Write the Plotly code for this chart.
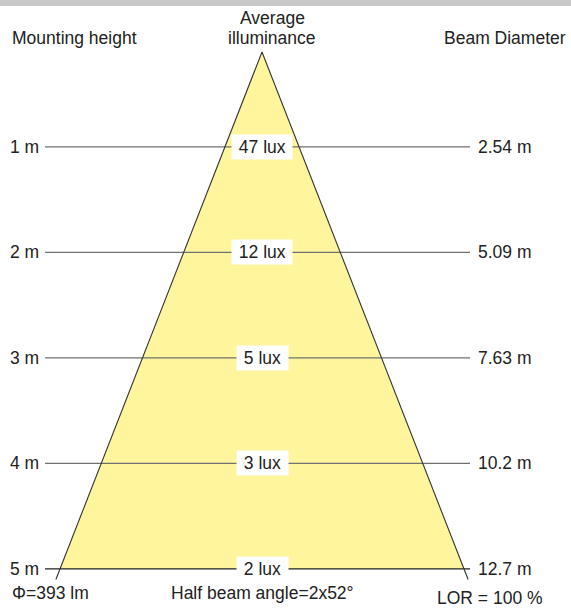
import plotly.graph_objects as go

# ---- data ----
heights = [1, 2, 3, 4, 5]                       # mounting height (m)
height_labels = ["1 m", "2 m", "3 m", "4 m", "5 m"]
lux = [47, 12, 5, 3, 2]                          # average illuminance
diameters = ["2.54 m", "5.09 m", "7.63 m", "10.2 m", "12.7 m"]
flux_text = "Φ=393 lm"
angle_text = "Half beam angle=2x52°"
lor_text = "LOR = 100 %"

# schematic geometry (drawing units)
apex_h = 0.1
base_h = 5.0
base_half = 202
edge_end_h = 5.1
line_left, line_right = -217, 208

FONT = "Liberation Sans, Arial, sans-serif"
TXT = "#222222"
FS = 17.5

fig = go.Figure()

# cone fill
fig.add_trace(go.Scatter(
    x=[0, -base_half, base_half, 0], y=[apex_h, base_h, base_h, apex_h],
    mode="lines", fill="toself", fillcolor="#fff59c",
    line=dict(width=0), hoverinfo="skip"))

# horizontal lines
for h in heights:
    fig.add_trace(go.Scatter(
        x=[line_left, line_right], y=[h, h], mode="lines",
        line=dict(color="#222222" if h == base_h else "#707070", width=1.2),
        hoverinfo="skip"))

# cone edges
ext = base_half * (edge_end_h - apex_h) / (base_h - apex_h)
for s in (-1, 1):
    fig.add_trace(go.Scatter(
        x=[0, s * ext], y=[apex_h, edge_end_h], mode="lines",
        line=dict(color="#333333", width=1.1), hoverinfo="skip"))

NB = "\u00a0"
ann = []
for h, hl, lx, d in zip(heights, height_labels, lux, diameters):
    ann.append(dict(x=line_left - 4, y=h, text=hl, xanchor="right", yanchor="middle",
                    showarrow=False, font=dict(size=FS, color=TXT, family=FONT)))
    ann.append(dict(x=line_right + 6, y=h, text=d, xanchor="left", yanchor="middle",
                    showarrow=False, font=dict(size=FS, color=TXT, family=FONT)))
    ann.append(dict(x=0, y=h, text=f"{NB}{lx} lux{NB}", xanchor="center", yanchor="middle",
                    showarrow=False, bgcolor="white", borderpad=2,
                    font=dict(size=FS, color=TXT, family=FONT)))

ann += [
    dict(x=-252, y=-0.035, text="Mounting height", xanchor="left", yanchor="middle",
         showarrow=False, font=dict(size=FS, color=TXT, family=FONT)),
    dict(x=10, y=-0.225, text="Average", xanchor="center", yanchor="middle",
         showarrow=False, font=dict(size=FS, color=TXT, family=FONT)),
    dict(x=10, y=-0.035, text="illuminance", xanchor="center", yanchor="middle",
         showarrow=False, font=dict(size=FS, color=TXT, family=FONT)),
    dict(x=306, y=-0.035, text="Beam Diameter", xanchor="right", yanchor="middle",
         showarrow=False, font=dict(size=FS, color=TXT, family=FONT)),
    dict(x=-252, y=5.228, text=flux_text, xanchor="left", yanchor="middle",
         showarrow=False, font=dict(size=FS, color=TXT, family=FONT)),
    dict(x=0, y=5.228, text=angle_text, xanchor="center", yanchor="middle",
         showarrow=False, font=dict(size=FS, color=TXT, family=FONT)),
    dict(x=228, y=5.275, text=lor_text, xanchor="center", yanchor="middle",
         showarrow=False, font=dict(size=FS, color=TXT, family=FONT)),
]

fig.update_layout(
    width=571, height=608,
    margin=dict(l=0, r=0, t=0, b=0),
    paper_bgcolor="white", plot_bgcolor="white",
    showlegend=False,
    xaxis=dict(range=[-262, 309], visible=False, fixedrange=True),
    yaxis=dict(range=[5.370, -0.393], visible=False, fixedrange=True),
    annotations=ann,
    shapes=[dict(type="rect", xref="paper", yref="paper", x0=0, x1=1,
                 y0=1 - 6 / 608, y1=1, fillcolor="#c8c8c8", line=dict(width=0))],
)

fig.write_html("out.html", config={"displayModeBar": False},
               post_script="document.body.style.margin='0';document.body.style.overflow='hidden';")
